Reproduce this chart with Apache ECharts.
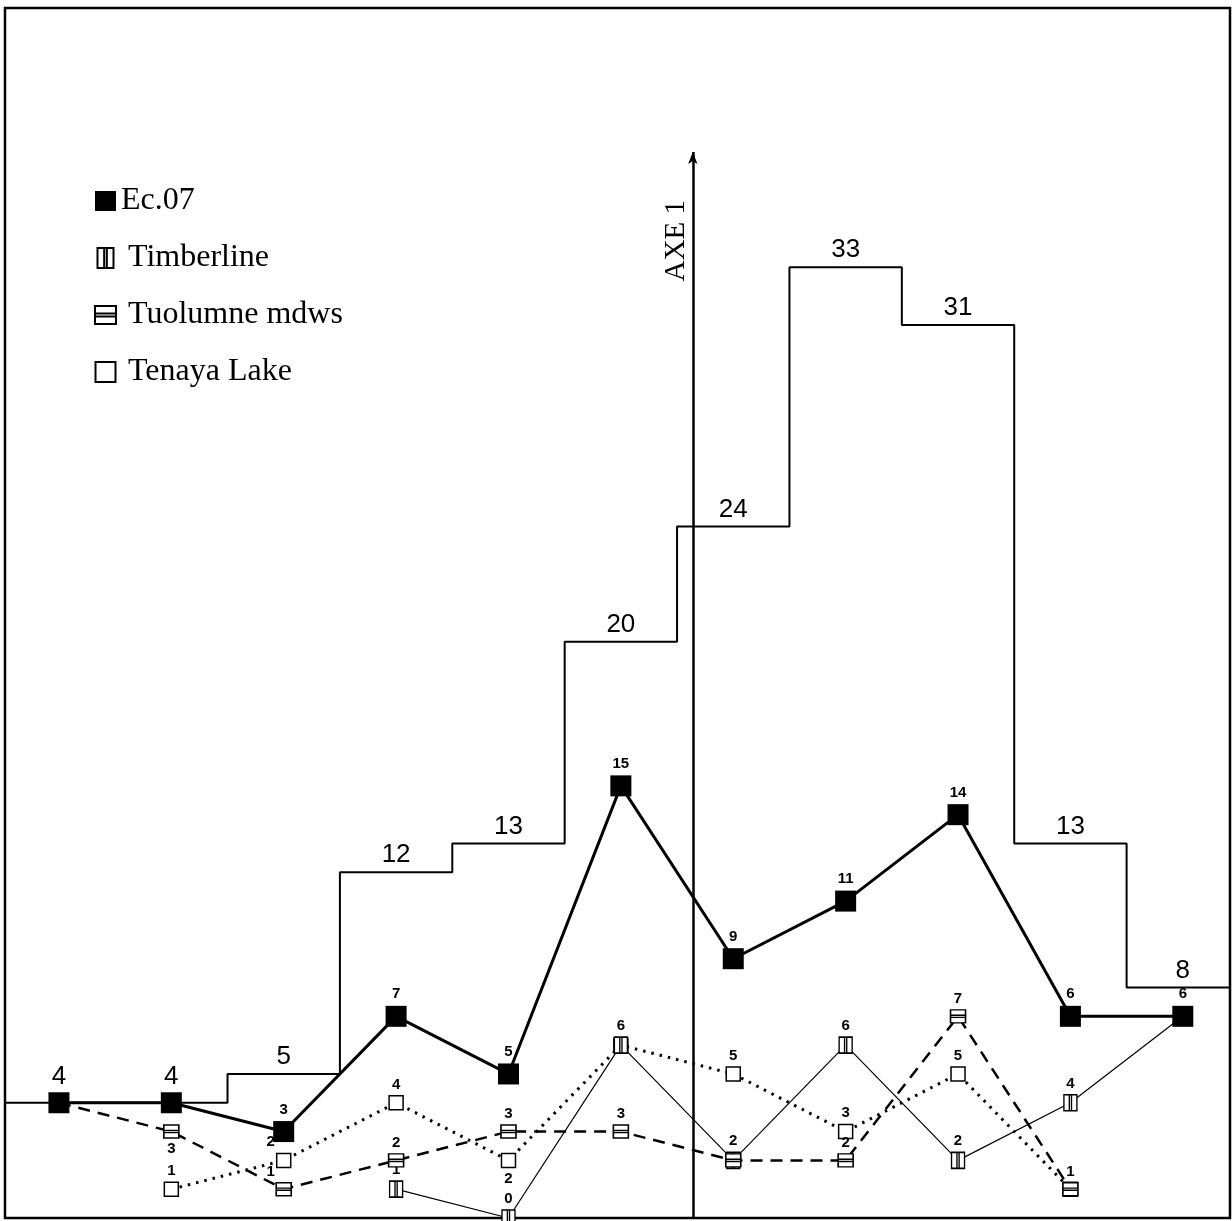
<!DOCTYPE html>
<html><head><meta charset="utf-8">
<script src="https://cdn.jsdelivr.net/npm/echarts@6/dist/echarts.min.js"></script>
<style>html,body{margin:0;padding:0;background:#fff}#c{width:1232px;height:1221px}</style>
</head><body><div id="c"></div>
<script>
// ---- data ----
const positions   = [0, 1, 2, 3, 4, 5, 6, 7, 8, 9, 10];
const histogram   = [4, 4, 5, 12, 13, 20, 24, 33, 31, 13, 8];
const ec07        = [4, 4, 3, 7, 5, 15, 9, 11, 14, 7, 7];
const ec07Printed = [null, null, '3', '7', '5', '15', '9', '11', '14', '6', '6'];
const timberline  = [null, null, null, 1, 0, 6, 2, 6, 2, 4, 7];
const tuolumne    = [4, 3, 1, 2, 3, 3, 2, 2, 7, 1, null];
const tenaya      = [null, 1, 2, 4, 2, 6, 5, 3, 5, 1, null];
const seriesNames = ['Ec.07', 'Timberline', 'Tuolumne mdws', 'Tenaya Lake'];
const axisTitle   = 'AXE 1';
const axisAt      = 5.64;   // position of the AXE 1 line on the x scale
const axisTop     = 37;     // height reached by the AXE 1 arrow

// ---- label placement (style, not data) ----
const hiddenLab = { timberline: [10], tuolumne: [0, 6], tenaya: [5, 9] };
const belowLab  = { tuolumne: [1], tenaya: [4] };
const leftLab   = { tuolumne: [2], tenaya: [2] };

const smallFont = { fontFamily: 'Liberation Sans', fontWeight: 'bold', fontSize: 15, color: '#000' };

const TIMB = 'path://M0,0H12V15H0Z M5,0V15 M7,0V15';
const TUOL = 'path://M0,0H14V12H0Z M0,5H14 M0,7H14';
const TENA = 'path://M0,0H13V13H0Z';

function pts(key, arr) {
  const out = [];
  arr.forEach((v, i) => {
    if (v == null) return;
    const lab = { show: !(hiddenLab[key] || []).includes(i), position: 'top', distance: 3 };
    if ((belowLab[key] || []).includes(i)) lab.position = 'bottom';
    if ((leftLab[key] || []).includes(i)) lab.offset = [-13, 0];
    out.push({ value: [positions[i], v], label: lab });
  });
  return out;
}

const histPts = histogram.map((v, i) => [positions[i] - 0.5, v])
  .concat([[positions[positions.length - 1] + 0.5, histogram[histogram.length - 1]]]);

const chart = echarts.init(document.getElementById('c'), null, { renderer: 'canvas' });
chart.setOption({
  animation: false,
  backgroundColor: '#fff',
  grid: { left: 5, right: 2, top: 8, bottom: 3, show: true, borderColor: '#000', borderWidth: 2.5 },
  xAxis: { type: 'value', min: -0.48, max: 10.42, show: false },
  yAxis: { type: 'value', min: 0, max: 42, show: false },
  legend: {
    orient: 'vertical', left: 89, top: 180, itemWidth: 21, itemHeight: 20, itemGap: 25,
    selectedMode: false,
    formatter: name => name === seriesNames[0] ? name : '{s|}' + name,
    textStyle: {
      fontFamily: 'Liberation Serif', fontSize: 32, color: '#000',
      rich: { s: { width: 7 } }
    },
    data: [
      { name: seriesNames[0], icon: 'rect' },
      { name: seriesNames[1], icon: TIMB },
      { name: seriesNames[2], icon: TUOL },
      { name: seriesNames[3], icon: TENA }
    ]
  },
  series: [
    {
      name: 'histogram', type: 'line', step: 'end', data: histPts, symbol: 'none', z: 1,
      lineStyle: { color: '#000', width: 2 }, silent: true,
      markLine: {
        silent: true, symbol: ['none', 'arrow'], symbolSize: [7, 12],
        lineStyle: { color: '#000', width: 2.5, type: 'solid' },
        label: {
          show: true, formatter: axisTitle, position: 'insideEndTop', distance: [48, 2],
          fontFamily: 'Liberation Serif', fontSize: 29, color: '#000'
        },
        data: [[{ coord: [axisAt, 0] }, { coord: [axisAt, axisTop] }]]
      }
    },
    {
      name: 'histLabels', type: 'scatter', silent: true, z: 7, symbolSize: 0,
      itemStyle: { color: '#000', opacity: 1 },
      data: histogram.map((v, i) => ({ value: [positions[i], v], label: { distance: ec07[i] === v ? 13 : 4 } })),
      label: {
        show: true, position: 'top', formatter: p => p.value[1], opacity: 1,
        fontFamily: 'Liberation Sans', fontSize: 26, color: '#000'
      }
    },
    {
      name: seriesNames[3], type: 'line', z: 3, data: pts('tenaya', tenaya),
      symbol: TENA, symbolSize: [14, 14],
      itemStyle: { color: '#fff', borderColor: '#000', borderWidth: 1.5 },
      lineStyle: { color: '#000', width: 3, type: [2.5, 6] },
      label: Object.assign({ formatter: p => p.value[1] }, smallFont)
    },
    {
      name: seriesNames[1], type: 'line', z: 4, data: pts('timberline', timberline),
      symbol: TIMB, symbolSize: [13, 16],
      itemStyle: { color: '#fff', borderColor: '#000', borderWidth: 1.5 },
      lineStyle: { color: '#000', width: 1.2 },
      label: Object.assign({ formatter: p => p.value[1] }, smallFont)
    },
    {
      name: seriesNames[2], type: 'line', z: 5, data: pts('tuolumne', tuolumne),
      symbol: TUOL, symbolSize: [15, 13],
      itemStyle: { color: '#fff', borderColor: '#000', borderWidth: 1.5 },
      lineStyle: { color: '#000', width: 2.5, type: [12, 8] },
      label: Object.assign({ formatter: p => p.value[1] }, smallFont)
    },
    {
      name: seriesNames[0], type: 'line', z: 6,
      data: ec07.map((v, i) => ({ value: [positions[i], v], label: { show: ec07Printed[i] != null } })),
      symbol: 'rect', symbolSize: 21,
      itemStyle: { color: '#000' },
      lineStyle: { color: '#000', width: 3 },
      label: Object.assign({ position: 'top', distance: 4, formatter: p => ec07Printed[p.dataIndex] || '' }, smallFont)
    }
  ]
});
</script></body></html>
